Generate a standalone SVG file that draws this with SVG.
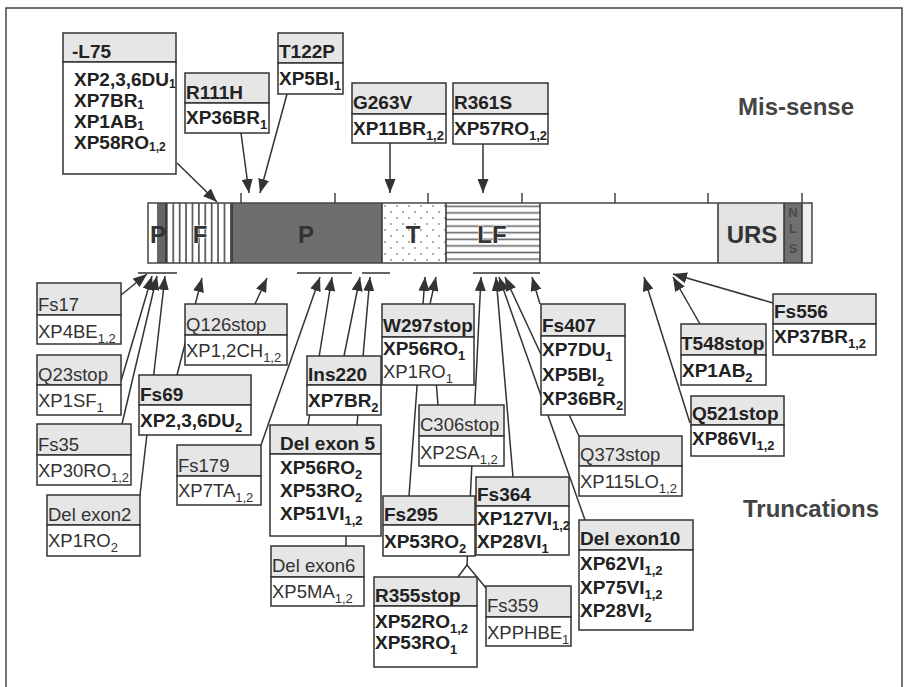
<svg xmlns="http://www.w3.org/2000/svg" width="905" height="687" viewBox="0 0 905 687">
<style>
.hd{fill:#e6e6e6;stroke:#333;stroke-width:1.5}
.bd{fill:#fff;stroke:#333;stroke-width:1.5}
.b{font-family:"Liberation Sans",Arial,sans-serif;font-weight:bold;font-size:19px;fill:#222}
.r{font-family:"Liberation Sans",Arial,sans-serif;font-size:18.5px;fill:#333}
.s{font-size:13px}
.c{stroke:#333;stroke-width:1.5;fill:none}
.a{marker-end:url(#ah)}
.bl{font-family:"Liberation Sans",Arial,sans-serif;font-weight:bold;font-size:24px;fill:#333;text-anchor:middle}
.halo{stroke:#fff;stroke-width:1.2;paint-order:stroke}
.ttl{font-family:"Liberation Sans",Arial,sans-serif;font-weight:bold;font-size:24px;fill:#444}
.tick{stroke:#444;stroke-width:1.5}
.nls{font-family:"Liberation Sans",Arial,sans-serif;font-weight:bold;font-size:13px;fill:#4a4a4a;text-anchor:middle}
</style>
<defs>
<marker id="ah" viewBox="0 0 14 11" refX="14" refY="5.5" markerWidth="14" markerHeight="11" orient="auto" markerUnits="userSpaceOnUse"><path d="M0,0 L14,5.5 L0,11 z" fill="#333"/></marker>
<pattern id="vstripe" patternUnits="userSpaceOnUse" x="166" y="0" width="6.4" height="10"><rect width="6.4" height="10" fill="#fff"/><rect x="0" width="1.7" height="10" fill="#555"/></pattern>
<pattern id="hstripe" patternUnits="userSpaceOnUse" x="0" y="203" width="10" height="6.6"><rect width="10" height="6.6" fill="#fff"/><rect y="2.5" width="10" height="1.6" fill="#666"/></pattern>
<pattern id="dots" patternUnits="userSpaceOnUse" x="382" y="203" width="12" height="12"><rect width="12" height="12" fill="#fff"/><circle cx="3" cy="3" r="0.9" fill="#888"/><circle cx="9" cy="9" r="0.9" fill="#888"/></pattern>
</defs>
<rect width="905" height="687" fill="#fff"/>
<rect x="6" y="8" width="896" height="690" fill="none" stroke="#444" stroke-width="1.5"/>

<g id="protein-bar">
<rect x="148" y="203" width="9" height="60" fill="#fff"/>
<rect x="157" y="203" width="9" height="60" fill="#666"/>
<rect x="166" y="203" width="66" height="60" fill="url(#vstripe)"/>
<rect x="232" y="203" width="150" height="60" fill="#6e6e6e"/>
<rect x="382" y="203" width="64" height="60" fill="url(#dots)"/>
<rect x="446" y="203" width="94" height="60" fill="url(#hstripe)"/>
<rect x="540" y="203" width="178" height="60" fill="#fff"/>
<rect x="718" y="203" width="66" height="60" fill="#e3e3e3"/>
<rect x="784" y="203" width="18" height="60" fill="#707070"/>
<rect x="802" y="203" width="10" height="60" fill="#eee"/>
<path class="c" d="M166,203V263M232,203V263M382,203V263M446,203V263M540,203V263M718,203V263M784,203V263M802,203V263"/>
<rect x="148" y="203" width="664" height="60" fill="none" stroke="#444" stroke-width="1.5"/>
<path class="tick" d="M241,193V203M335,193V203M428,193V203M522,193V203M615,193V203M708,193V203M802,193V203"/>
<text class="bl" x="158" y="243">P</text>
<text class="bl halo" x="200" y="243">F</text>
<text class="bl" x="306" y="243" fill="#2e2e2e">P</text>
<text class="bl halo" x="413" y="243">T</text>
<text class="bl halo" x="492" y="243">LF</text>
<text class="bl" x="752" y="243">URS</text>
<text class="nls" x="793" y="217">N</text>
<text class="nls" x="793" y="233">L</text>
<text class="nls" x="793" y="253">S</text>
</g>

<text class="ttl" x="738" y="115">Mis-sense</text>
<text class="ttl" x="743" y="517">Truncations</text>

<g id="connectors">
<path class="c a" d="M177,163L217,202"/>
<path class="c a" d="M241,133L249,193"/>
<path class="c a" d="M287,94L260,193"/>
<path class="c a" d="M390,143L390,193"/>
<path class="c a" d="M483,144L483,193"/>
<path class="c" d="M138,273H177M297,273H352M362,273H390M473,273H540"/>
<path class="c a" d="M121,295L147,274"/>
<path class="c a" d="M121,381L152,276"/>
<path class="c a" d="M122,424L157,276"/>
<path class="c a" d="M140,495L165,276"/>
<path class="c a" d="M177,375L202,278"/>
<path class="c a" d="M255,304L267,278"/>
<path class="c a" d="M261,445L320,277"/>
<path class="c a" d="M308,425L332,277"/>
<path class="c a" d="M344,356L360,277"/>
<path class="c a" d="M357,425L370,277"/>
<path class="c" d="M346,546L346,536"/>
<path class="c a" d="M409,496L425,277"/>
<path class="c a" d="M438,405L430,304L436,277"/>
<path class="c" d="M458,577L467,565L486,588"/>
<path class="c a" d="M467,565L481,277"/>
<path class="c a" d="M513,477L496,277"/>
<path class="c a" d="M585,520L499,277"/>
<path class="c a" d="M579,436L505,277"/>
<path class="c a" d="M540,304L532,277"/>
<path class="c a" d="M690,423L644,277"/>
<path class="c a" d="M700,324L673,277"/>
<path class="c a" d="M773,303L673,274"/>
</g>

<g id="n-L75"><rect class="hd" x="63" y="33" width="113" height="29"/><rect class="bd" x="63" y="62" width="113" height="112"/>
<text class="b" x="72" y="58">-L75</text>
<text class="b" x="74" y="86" font-size="18">XP2,3,6DU<tspan font-size="12" dy="2">1</tspan></text>
<text class="b" x="74" y="107" font-size="18">XP7BR<tspan font-size="12" dy="2">1</tspan></text>
<text class="b" x="74" y="128" font-size="18">XP1AB<tspan font-size="12" dy="2">1</tspan></text>
<text class="b" x="74" y="149" font-size="18">XP58RO<tspan font-size="12" dy="2">1,2</tspan></text></g>

<g id="n-R111H"><rect class="hd" x="185" y="73" width="84" height="30"/><rect class="bd" x="185" y="103" width="84" height="30"/>
<text class="b" x="186" y="99">R111H</text><text class="b" x="186" y="124">XP36BR<tspan class="s" dy="5">1</tspan></text></g>

<g id="n-T122P"><rect class="hd" x="278" y="33" width="65" height="30"/><rect class="bd" x="278" y="63" width="65" height="31"/>
<text class="b" x="279" y="58">T122P</text><text class="b" x="279" y="85">XP5BI<tspan class="s" dy="5">1</tspan></text></g>

<g id="n-G263V"><rect class="hd" x="352" y="83" width="94" height="31"/><rect class="bd" x="352" y="114" width="94" height="29"/>
<text class="b" x="353" y="109">G263V</text><text class="b" x="353" y="135">XP11BR<tspan class="s" dy="5">1,2</tspan></text></g>

<g id="n-R361S"><rect class="hd" x="453" y="83" width="95" height="31"/><rect class="bd" x="453" y="114" width="95" height="30"/>
<text class="b" x="454" y="109">R361S</text><text class="b" x="454" y="135">XP57RO<tspan class="s" dy="5">1,2</tspan></text></g>

<g id="n-Fs17"><rect class="hd" x="37" y="283" width="84" height="32"/><rect class="bd" x="37" y="315" width="84" height="29"/>
<text class="r" x="38" y="311">Fs17</text><text class="r" x="38" y="338">XP4BE<tspan class="s" dy="5">1,2</tspan></text></g>

<g id="n-Q23stop"><rect class="hd" x="37" y="355" width="84" height="30"/><rect class="bd" x="37" y="385" width="84" height="30"/>
<text class="r" x="38" y="381">Q23stop</text><text class="r" x="38" y="407">XP1SF<tspan class="s" dy="5">1</tspan></text></g>

<g id="n-Fs35"><rect class="hd" x="37" y="424" width="94" height="31"/><rect class="bd" x="37" y="455" width="94" height="30"/>
<text class="r" x="38" y="451">Fs35</text><text class="r" x="38" y="477">XP30RO<tspan class="s" dy="5">1,2</tspan></text></g>

<g id="n-Delexon2"><rect class="hd" x="47" y="495" width="93" height="30"/><rect class="bd" x="47" y="525" width="93" height="31"/>
<text class="r" x="48" y="521">Del exon2</text><text class="r" x="48" y="547">XP1RO<tspan class="s" dy="5">2</tspan></text></g>

<g id="n-Q126stop"><rect class="hd" x="185" y="304" width="102" height="31"/><rect class="bd" x="185" y="335" width="102" height="30"/>
<text class="r" x="186" y="331">Q126stop</text><text class="r" x="186" y="357">XP1,2CH<tspan class="s" dy="5">1,2</tspan></text></g>

<g id="n-Fs69"><rect class="hd" x="139" y="375" width="112" height="30"/><rect class="bd" x="139" y="405" width="112" height="30"/>
<text class="b" x="140" y="401">Fs69</text><text class="b" x="140" y="427">XP2,3,6DU<tspan class="s" dy="5">2</tspan></text></g>

<g id="n-Fs179"><rect class="hd" x="177" y="445" width="84" height="31"/><rect class="bd" x="177" y="476" width="84" height="29"/>
<text class="r" x="178" y="472">Fs179</text><text class="r" x="178" y="497">XP7TA<tspan class="s" dy="5">1,2</tspan></text></g>

<g id="n-Ins220"><rect class="hd" x="307" y="356" width="74" height="29"/><rect class="bd" x="307" y="385" width="74" height="30"/>
<text class="b" x="308" y="381">Ins220</text><text class="b" x="308" y="407">XP7BR<tspan class="s" dy="5">2</tspan></text></g>

<g id="n-Delexon5"><rect class="hd" x="270" y="425" width="111" height="29"/><rect class="bd" x="270" y="454" width="111" height="82"/>
<text class="b" x="280" y="450">Del exon 5</text>
<text class="b" x="280" y="474">XP56RO<tspan class="s" dy="5">2</tspan></text>
<text class="b" x="280" y="497">XP53RO<tspan class="s" dy="5">2</tspan></text>
<text class="b" x="280" y="520">XP51VI<tspan class="s" dy="5">1,2</tspan></text></g>

<g id="n-Delexon6"><rect class="hd" x="271" y="546" width="93" height="31"/><rect class="bd" x="271" y="577" width="93" height="29"/>
<text class="r" x="272" y="572">Del exon6</text><text class="r" x="272" y="598">XP5MA<tspan class="s" dy="5">1,2</tspan></text></g>

<g id="n-W297stop"><rect class="hd" x="382" y="304" width="92" height="33"/><rect class="bd" x="382" y="337" width="92" height="48"/>
<text class="b" x="383" y="332">W297stop</text>
<text class="b" x="383" y="355">XP56RO<tspan class="s" dy="5">1</tspan></text>
<text class="r" x="383" y="378">XP1RO<tspan class="s" dy="5">1</tspan></text></g>

<g id="n-C306stop"><rect class="hd" x="419" y="405" width="85" height="31"/><rect class="bd" x="419" y="436" width="85" height="30"/>
<text class="r" x="420" y="431">C306stop</text><text class="r" x="420" y="459">XP2SA<tspan class="s" dy="5">1,2</tspan></text></g>

<g id="n-Fs295"><rect class="hd" x="383" y="496" width="92" height="29"/><rect class="bd" x="383" y="525" width="92" height="31"/>
<text class="b" x="384" y="521">Fs295</text><text class="b" x="384" y="548">XP53RO<tspan class="s" dy="5">2</tspan></text></g>

<g id="n-Fs364"><rect class="hd" x="476" y="477" width="93" height="29"/><rect class="bd" x="476" y="506" width="93" height="49"/>
<text class="b" x="477" y="501">Fs364</text>
<text class="b" x="477" y="525">XP127VI<tspan class="s" dy="5">1,2</tspan></text>
<text class="b" x="477" y="548">XP28VI<tspan class="s" dy="5">1</tspan></text></g>

<g id="n-R355stop"><rect class="hd" x="374" y="577" width="103" height="29"/><rect class="bd" x="374" y="606" width="103" height="61"/>
<text class="b" x="375" y="602">R355stop</text>
<text class="b" x="375" y="628">XP52RO<tspan class="s" dy="5">1,2</tspan></text>
<text class="b" x="375" y="649">XP53RO<tspan class="s" dy="5">1</tspan></text></g>

<g id="n-Fs359"><rect class="hd" x="486" y="586" width="85" height="31"/><rect class="bd" x="486" y="617" width="85" height="29"/>
<text class="r" x="487" y="612">Fs359</text><text class="r" x="487" y="639">XPPHBE<tspan class="s" dy="5">1</tspan></text></g>

<g id="n-Fs407"><rect class="hd" x="541" y="304" width="84" height="32"/><rect class="bd" x="541" y="336" width="84" height="79"/>
<text class="b" x="542" y="332">Fs407</text>
<text class="b" x="542" y="356">XP7DU<tspan class="s" dy="5">1</tspan></text>
<text class="b" x="542" y="381">XP5BI<tspan class="s" dy="5">2</tspan></text>
<text class="b" x="542" y="405">XP36BR<tspan class="s" dy="5">2</tspan></text></g>

<g id="n-Q373stop"><rect class="hd" x="579" y="436" width="103" height="30"/><rect class="bd" x="579" y="466" width="103" height="30"/>
<text class="r" x="580" y="461">Q373stop</text><text class="r" x="580" y="488">XP115LO<tspan class="s" dy="5">1,2</tspan></text></g>

<g id="n-Delexon10"><rect class="hd" x="579" y="520" width="114" height="30"/><rect class="bd" x="579" y="550" width="114" height="80"/>
<text class="b" x="580" y="545">Del exon10</text>
<text class="b" x="580" y="570">XP62VI<tspan class="s" dy="5">1,2</tspan></text>
<text class="b" x="580" y="594">XP75VI<tspan class="s" dy="5">1,2</tspan></text>
<text class="b" x="580" y="617">XP28VI<tspan class="s" dy="5">2</tspan></text></g>

<g id="n-T548stop"><rect class="hd" x="681" y="324" width="85" height="31"/><rect class="bd" x="681" y="355" width="85" height="30"/>
<text class="b" x="681" y="350">T548stop</text><text class="b" x="682" y="377">XP1AB<tspan class="s" dy="5">2</tspan></text></g>

<g id="n-Fs556"><rect class="hd" x="773" y="294" width="103" height="30"/><rect class="bd" x="773" y="324" width="103" height="31"/>
<text class="b" x="774" y="318">Fs556</text><text class="b" x="774" y="343">XP37BR<tspan class="s" dy="5">1,2</tspan></text></g>

<g id="n-Q521stop"><rect class="hd" x="691" y="396" width="93" height="29"/><rect class="bd" x="691" y="425" width="93" height="31"/>
<text class="b" x="692" y="420">Q521stop</text><text class="b" x="692" y="445">XP86VI<tspan class="s" dy="5">1,2</tspan></text></g>
</svg>
